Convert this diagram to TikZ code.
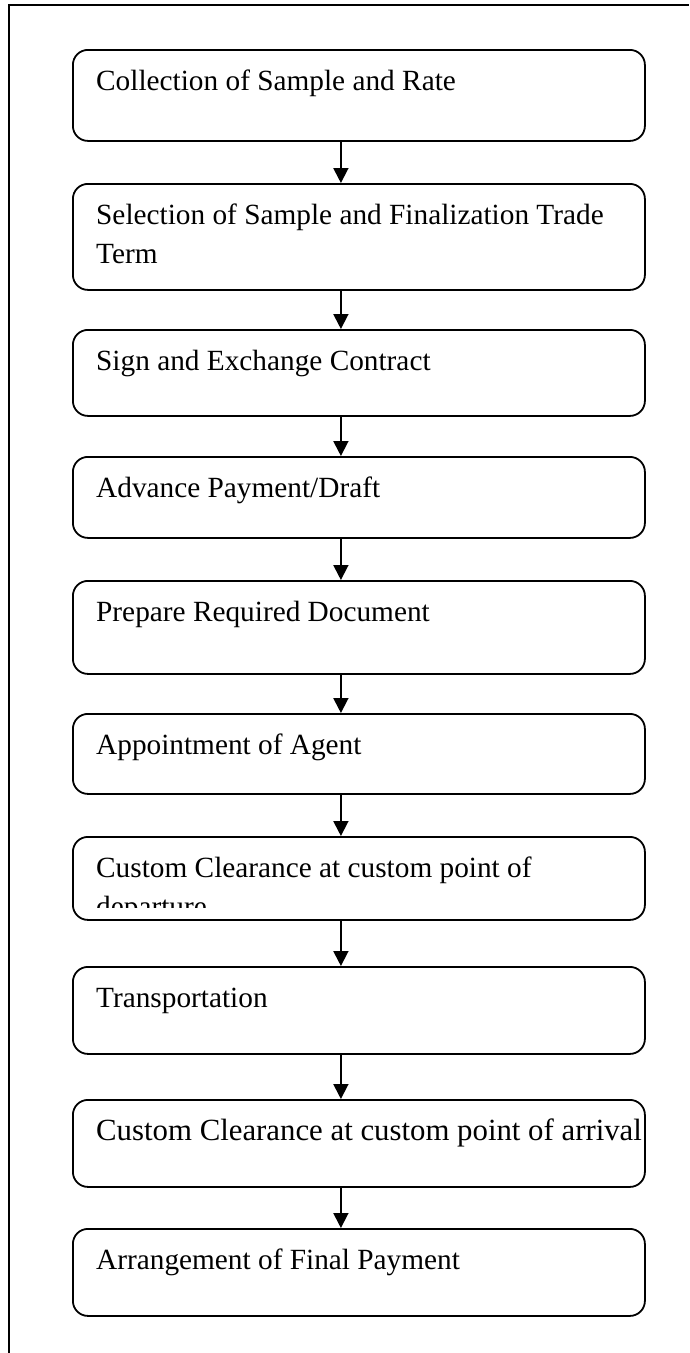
\documentclass[tikz,border=0pt]{standalone}
\usepackage{fontspec}
\setmainfont{Liberation Serif}
\usetikzlibrary{arrows.meta}
\newcommand{\twolines}[2]{\vtop{\baselineskip=39pt\hbox{#1}\hbox{#2}}}
\tikzset{
  box/.style={draw, line width=1.8pt, rounded corners=15pt, minimum width=572pt, inner sep=0pt, anchor=north west},
  txt/.style={anchor=base west, inner sep=0pt, font=\fontsize{29.3}{39}\selectfont},
  arr/.style={line width=1.8pt, -{Triangle[width=15pt,length=15pt]}},
  frame/.style={line width=2.4pt}
}
\begin{document}
\begin{tikzpicture}[x=1pt,y=-1pt]
\useasboundingbox (0,0) rectangle (689,1353);
\coordinate (fa) at (9,1353);
\coordinate (fb) at (9,5);
\coordinate (fc) at (689,5);
\draw[frame] (fa) -- (fb) -- (fc);

\node[box, minimum height=91pt]  (b1)  at (72,49)   {};
\node[box, minimum height=106pt] (b2)  at (72,183)  {};
\node[box, minimum height=86pt]  (b3)  at (72,329)  {};
\node[box, minimum height=81pt]  (b4)  at (72,456)  {};
\node[box, minimum height=93pt]  (b5)  at (72,580)  {};
\node[box, minimum height=80pt]  (b6)  at (72,713)  {};
\node[box, minimum height=83pt]  (b7)  at (72,836)  {};
\node[box, minimum height=87pt]  (b8)  at (72,966)  {};
\node[box, minimum height=87pt]  (b9)  at (72,1099) {};
\node[box, minimum height=87pt]  (b10) at (72,1228) {};

\node[txt] (t1) at ([xshift=24pt,yshift=-41pt]b1.north west) {Collection of Sample and Rate};
\node[txt] (t2) at ([xshift=24pt,yshift=-41pt]b2.north west) {\twolines{Selection of Sample and Finalization Trade}{Term}};
\node[txt] (t3) at ([xshift=24pt,yshift=-41pt]b3.north west) {Sign and Exchange Contract};
\node[txt] (t4) at ([xshift=24pt,yshift=-41pt]b4.north west) {Advance Payment/Draft};
\node[txt] (t5) at ([xshift=24pt,yshift=-41pt]b5.north west) {Prepare Required Document};
\node[txt] (t6) at ([xshift=24pt,yshift=-41pt]b6.north west) {Appointment of Agent};
\begin{scope}
\clip (72,836) rectangle (644,907);
\node[txt] (t7) at ([xshift=24pt,yshift=-41pt]b7.north west) {\twolines{Custom Clearance at custom point of}{departure}};
\end{scope}
\node[txt] (t8) at ([xshift=24pt,yshift=-41pt]b8.north west) {Transportation};
\node[txt, font=\fontsize{30.8}{39}\selectfont] (t9) at ([xshift=24pt,yshift=-41pt]b9.north west) {Custom Clearance at custom point of arrival};
\node[txt] (t10) at ([xshift=24pt,yshift=-41pt]b10.north west) {Arrangement of Final Payment};

\foreach \a/\b in {b1/b2,b2/b3,b3/b4,b4/b5,b5/b6,b6/b7,b7/b8,b8/b9,b9/b10}
  \draw[arr] ([xshift=-18pt]\a.south) -- ([xshift=-18pt]\b.north);
\end{tikzpicture}
\end{document}
